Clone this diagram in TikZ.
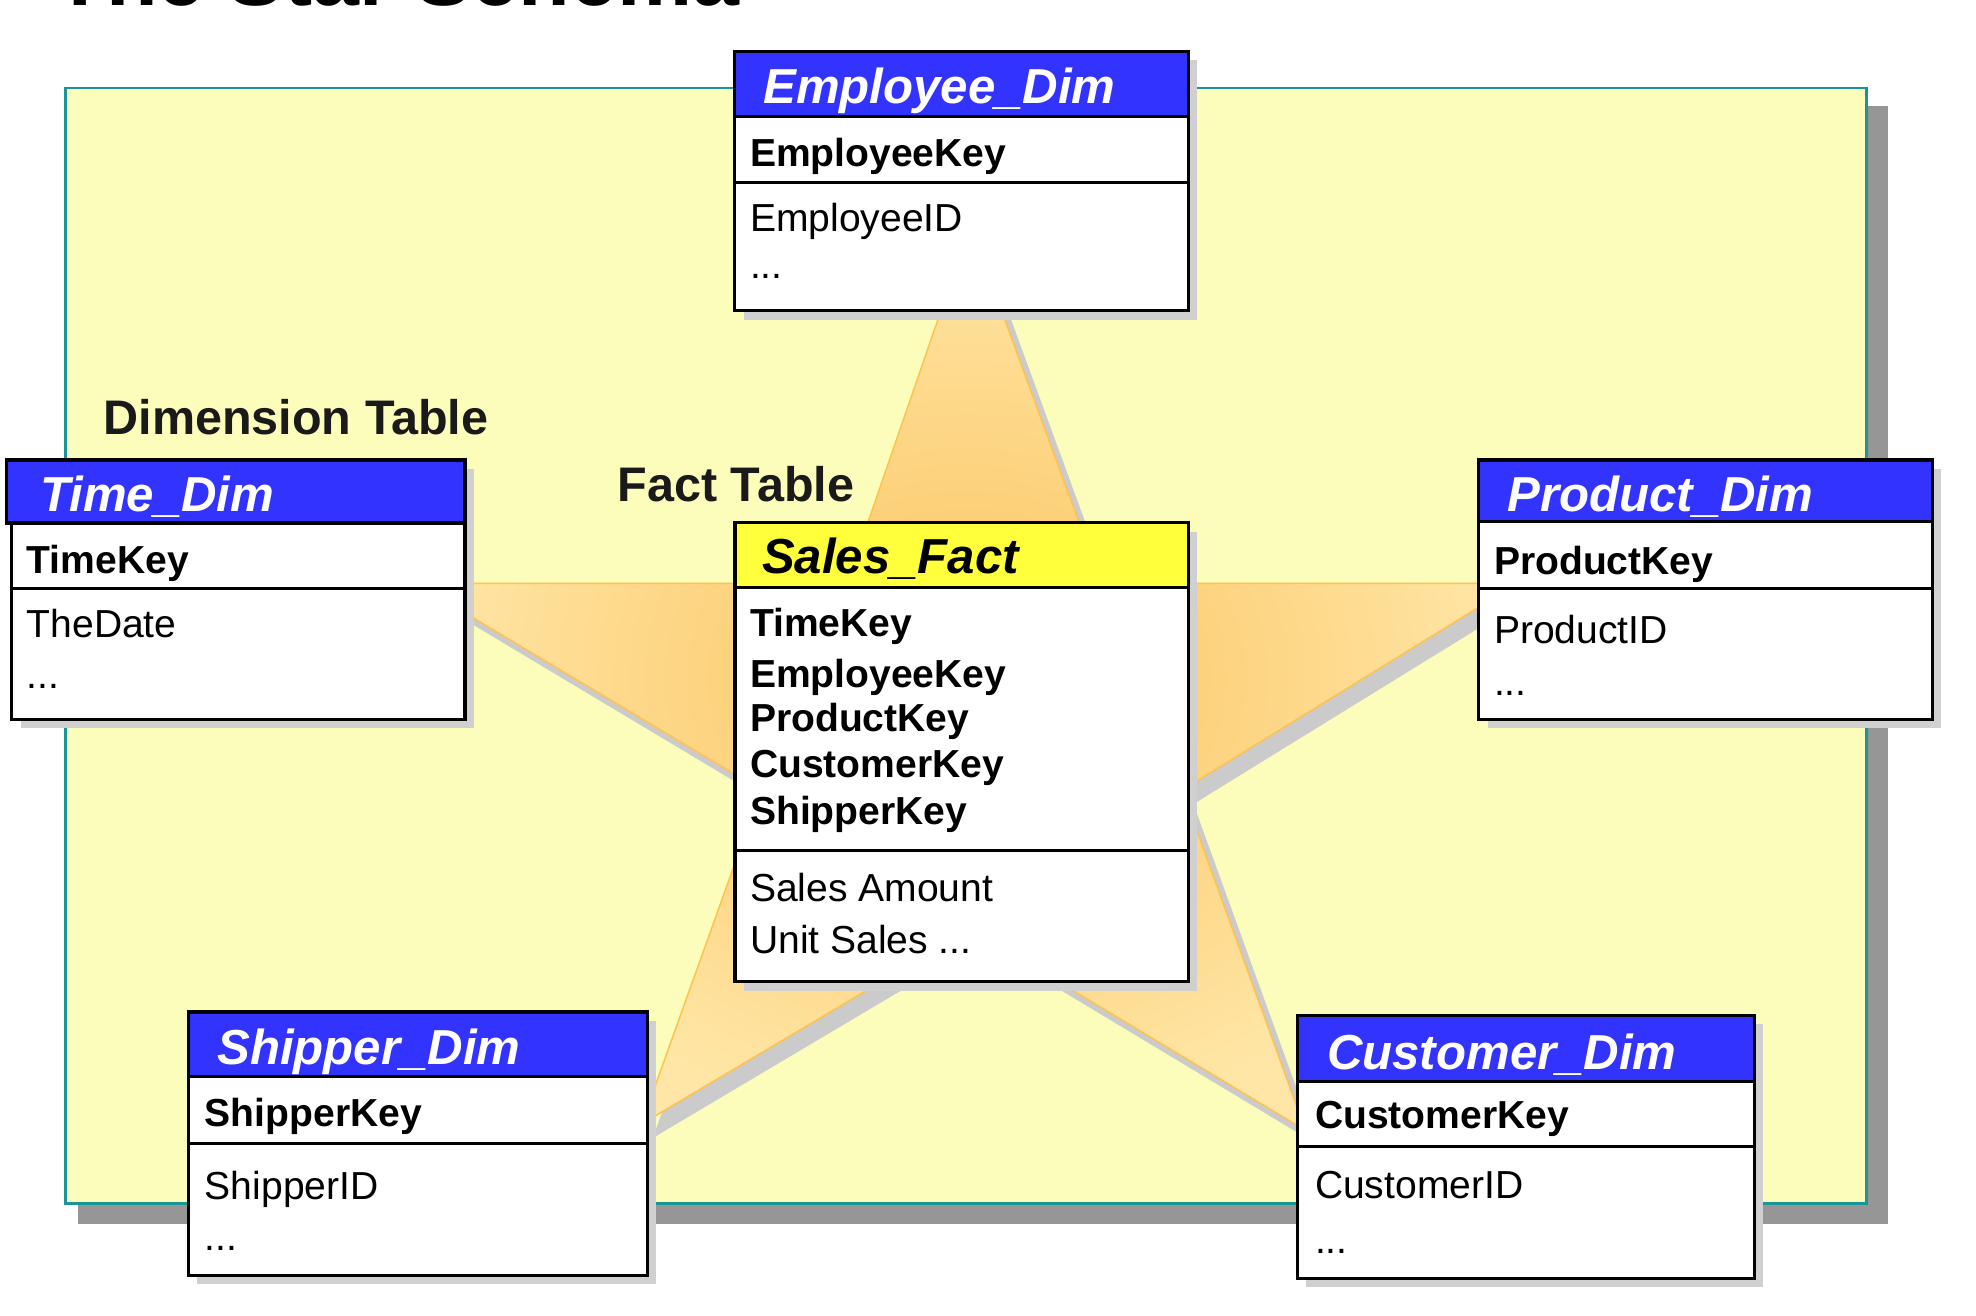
\documentclass[tikz,border=0pt]{standalone}
\usepackage{fontspec}
\setmainfont{Liberation Sans}
\definecolor{bgyellow}{HTML}{FCFCBB}
\definecolor{bgteal}{HTML}{1A9696}
\definecolor{bgshadow}{HTML}{969696}
\definecolor{tblshadow}{HTML}{D0D0D0}
\definecolor{hdrblue}{HTML}{3333FF}
\definecolor{hdryellow}{HTML}{FFFF3C}
\definecolor{starcore}{HTML}{FBC35E}
\definecolor{starlight}{HTML}{FFE6A6}
\definecolor{staredge}{HTML}{FFC24E}
\definecolor{starshadow}{HTML}{CBCBCB}
\definecolor{labelink}{HTML}{1A1A1A}
\begin{document}
\begin{tikzpicture}[x=1pt,y=-1pt,
  frame/.style={draw=black,line width=2.6pt},
  sepline/.style={draw=black,line width=2.2pt},
  ttl/.style={anchor=base west,inner sep=0pt,text=white,font=\fontsize{39}{45}\selectfont\bfseries\itshape},
  keyrow/.style={anchor=base west,inner sep=0pt,font=\fontsize{31}{36}\selectfont\bfseries},
  attrow/.style={anchor=base west,inner sep=0pt,font=\fontsize{31}{36}\selectfont},
  biglabel/.style={anchor=base west,inner sep=0pt,text=labelink,font=\fontsize{38.5}{44}\selectfont\bfseries}]
\useasboundingbox (0,0) rectangle (1568,1044);
% cut-off title
\begin{scope}
\clip (0,0) rectangle (1568,1044);
\node[anchor=base west,inner sep=0pt,font=\fontsize{67}{72}\selectfont\bfseries] (title) at (43,4) {The Star Schema};
\end{scope}
% background panel
\fill[bgshadow] (62,84) rectangle (1498,971);
\filldraw[fill=bgyellow,draw=bgteal,line width=2pt] (52,70) rectangle (1481,955);
% star
\fill[starshadow,shift={(9,11)}] (770,179) -- (874,463) -- (1204,463) -- (938,627) -- (1036,897) -- (770,737) -- (509,892) -- (604,627) -- (330,463) -- (672,463) -- cycle;
\shade[inner color=starcore,outer color=starlight,draw=staredge,line width=1.2pt] (770,179) -- (874,463) -- (1204,463) -- (938,627) -- (1036,897) -- (770,737) -- (509,892) -- (604,627) -- (330,463) -- (672,463) -- cycle;
% ---------- Employee_Dim ----------
\fill[tblshadow] (590,48) rectangle (950,253.6);
\fill[white] (583,41) rectangle (943,246.6);
\fill[hdrblue] (583,41) rectangle (943,92.6);
\draw[sepline] (583,92.6) -- (943,92.6);
\draw[sepline] (583,145) -- (943,145);
\draw[frame] (583,41) rectangle (943,246.6);
\node[ttl] (empT) at (605.5,82) {Employee\_Dim};
\node[keyrow] (empK) at (595,132) {EmployeeKey};
\node[attrow] (empA) at (595,184) {EmployeeID};
\node[attrow] (empM) at (595,221) {...};
% ---------- Time_Dim ----------
\fill[tblshadow] (16.3,372) rectangle (376,578);
\fill[white] (9.3,415) rectangle (369,571);
\fill[hdrblue] (5.3,365) rectangle (369,415);
\draw[sepline] (5.3,415) -- (369,415);
\draw[sepline] (9.3,467) -- (369,467);
\draw[frame] (5.3,365) rectangle (369,415);
\draw[frame] (9.3,415) rectangle (369,571);
\node[ttl] (timT) at (31.7,406) {Time\_Dim};
\node[keyrow] (timK) at (21,455) {TimeKey};
\node[attrow] (timA) at (21,505.6) {TheDate};
\node[attrow] (timM) at (21,546) {...};
% ---------- Product_Dim ----------
\fill[tblshadow] (1180.4,372) rectangle (1540.4,578);
\fill[white] (1173.4,365) rectangle (1533.4,571);
\fill[hdrblue] (1173.4,365) rectangle (1533.4,414);
\draw[sepline] (1173.4,414) -- (1533.4,414);
\draw[sepline] (1173.4,467) -- (1533.4,467);
\draw[frame] (1173.4,365) rectangle (1533.4,571);
\node[ttl] (proT) at (1196,406) {Product\_Dim};
\node[keyrow] (proK) at (1185.4,456) {ProductKey};
\node[attrow] (proA) at (1185.4,510.6) {ProductID};
\node[attrow] (proM) at (1185.4,551.6) {...};
% ---------- Sales_Fact ----------
\fill[tblshadow] (590.3,421.8) rectangle (950,786);
\fill[white] (583.3,414.8) rectangle (943,779);
\fill[hdryellow] (583.3,414.8) rectangle (943,466);
\draw[sepline] (583.3,466) -- (943,466);
\draw[sepline] (583.3,675) -- (943,675);
\draw[frame] (583.3,414.8) rectangle (943,779);
\node[ttl,text=black] (facT) at (604.5,455) {Sales\_Fact};
\node[keyrow] (facK1) at (595,504.8) {TimeKey};
\node[keyrow] (facK2) at (595,545.5) {EmployeeKey};
\node[keyrow] (facK3) at (595,580.7) {ProductKey};
\node[keyrow] (facK4) at (595,617) {CustomerKey};
\node[keyrow] (facK5) at (595,654) {ShipperKey};
\node[attrow] (facA1) at (595,715.6) {Sales Amount};
\node[attrow] (facA2) at (595,756.6) {Unit Sales ...};
% ---------- Shipper_Dim ----------
\fill[tblshadow] (156.7,810) rectangle (520.9,1018.9);
\fill[white] (149.7,803) rectangle (513.9,1011.9);
\fill[hdrblue] (149.7,803) rectangle (513.9,854.5);
\draw[sepline] (149.7,854.5) -- (513.9,854.5);
\draw[sepline] (149.7,907.4) -- (513.9,907.4);
\draw[frame] (149.7,803) rectangle (513.9,1011.9);
\node[ttl] (shiT) at (172.3,845) {Shipper\_Dim};
\node[keyrow] (shiK) at (162.4,894) {ShipperKey};
\node[attrow] (shiA) at (162.4,952) {ShipperID};
\node[attrow] (shiM) at (162.4,992.6) {...};
% ---------- Customer_Dim ----------
\fill[tblshadow] (1036.3,812.6) rectangle (1399,1021.5);
\fill[white] (1029.3,805.6) rectangle (1392,1014.5);
\fill[hdrblue] (1029.3,805.6) rectangle (1392,858);
\draw[sepline] (1029.3,858) -- (1392,858);
\draw[sepline] (1029.3,910) -- (1392,910);
\draw[frame] (1029.3,805.6) rectangle (1392,1014.5);
\node[ttl] (cusT) at (1052.9,849) {Customer\_Dim};
\node[keyrow] (cusK) at (1043.3,895.5) {CustomerKey};
\node[attrow] (cusA) at (1043.3,951) {CustomerID};
\node[attrow] (cusM) at (1043.3,995) {...};
% labels
\node[biglabel] (dimlabel) at (82,345) {Dimension Table};
\node[biglabel] (factlabel) at (490,398) {Fact Table};
\end{tikzpicture}
\end{document}
